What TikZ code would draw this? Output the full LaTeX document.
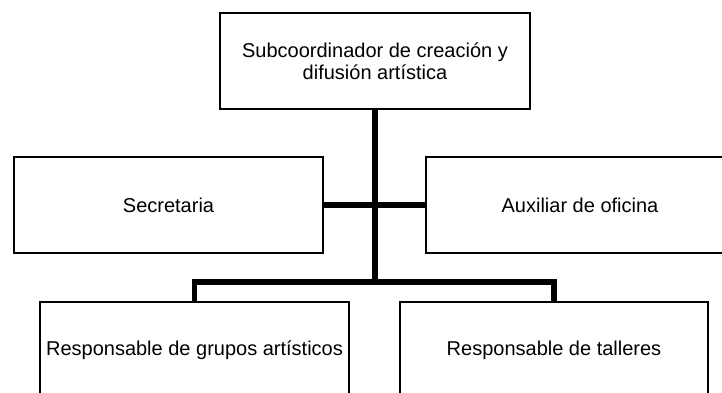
\documentclass[tikz,border=0pt]{standalone}
\usepackage{fontspec}
\setmainfont{Liberation Sans}
\begin{document}
\begin{tikzpicture}[x=1pt,y=-1pt,
  orgbox/.style={draw=black,line width=1.2pt,rectangle,minimum width=309pt,minimum height=96pt,inner sep=0pt,align=center,font=\fontsize{20}{22}\selectfont},
  conn/.style={line width=5.5pt,draw=black}]
\useasboundingbox (0,0) rectangle (722,392);
\clip (0,0) rectangle (722,392);
\node[orgbox,minimum width=310pt] (top) at (375,61) {Subcoordinador de creación y\\difusión artística};
\node[orgbox] (sec) at (168.5,205) {Secretaria};
\node[orgbox,minimum width=308pt] (aux) at (580,205) {Auxiliar de oficina};
\node[orgbox] (grp) at (194.5,350) {Responsable de grupos artísticos};
\node[orgbox,minimum width=308pt] (tal) at (554,350) {Responsable de talleres};
\coordinate (j) at (375,282);
\draw[conn] (top.south) -- (j);
\draw[conn] (sec.east) -- (aux.west);
\draw[conn] (grp.north) |- (j) -| (tal.north);
\end{tikzpicture}
\end{document}
